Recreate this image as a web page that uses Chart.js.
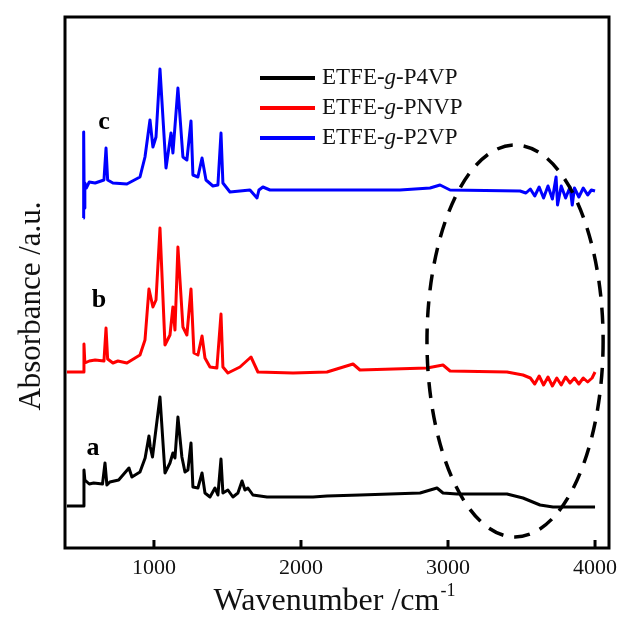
<!DOCTYPE html>
<html>
<head>
<meta charset="utf-8">
<script src="https://cdn.jsdelivr.net/npm/chart.js@4"></script>
<style>
  html, body { margin: 0; padding: 0; background: #fff; }
  #wrap { width: 621px; height: 619px; }
</style>
</head>
<body>
<div id="wrap"><canvas id="myChart" width="621" height="619"></canvas></div>
<script>
// series names (legend)
var Names = ["ETFE-g-P4VP", "ETFE-g-PNVP", "ETFE-g-P2VP"];
var Letters = ["a", "b", "c"];
var Colors = ["#000000", "#ff0000", "#0000ff"];

// x tick labels
var XTicks = [1000, 2000, 3000, 4000];

// trace a: ETFE-g-P4VP (wavenumber / offset absorbance)
var wnA = [408,520,524,530,560,590,650,667,680,700,760,830,850,905,940,966,975,990,1041,1075,1109,1129,1143,1163,1190,1211,1231,1252,1265,1299,1327,1347,1381,1415,1435,1456,1469,1503,1537,1571,1599,1619,1639,1673,1769,2082,2177,2401,2810,2925,2966,3061,3401,3510,3626,3714,4000];
var absA = [42,42,78,68,64,65,64,85,63,66,68,80,71,76,90,112,101,91,151,75,85,95,90,131,91,76,78,105,61,60,75,55,51,60,53,89,55,58,51,55,67,58,60,53,51,51,52,53,55,60,55,54,54,50,43,41,41];

// trace b: ETFE-g-PNVP
var wnB = [408,520,524,530,560,600,660,674,685,721,755,816,905,939,966,993,1014,1041,1075,1109,1129,1143,1163,1197,1224,1252,1272,1299,1327,1347,1381,1428,1456,1469,1503,1585,1660,1707,1946,2177,2354,2401,2857,2966,3014,3401,3510,3560,3590,3620,3650,3680,3710,3740,3770,3800,3830,3860,3890,3920,3950,3980,4000];
var absB = [176,176,204,185,187,188,187,220,189,185,187,185,193,208,259,241,248,320,203,213,241,218,301,221,213,259,195,193,212,190,181,180,234,181,175,181,191,176,175,176,184,178,180,183,177,176,173,170,164,172,163,171,162,170,163,171,165,170,164,170,166,170,176];

// trace c: ETFE-g-P2VP
var wnC = [520,522,526,530,540,560,600,640,660,674,685,721,816,905,939,973,993,1014,1041,1082,1116,1129,1163,1197,1224,1252,1265,1299,1327,1354,1401,1435,1456,1469,1517,1653,1701,1714,1741,1789,2265,2673,2878,2946,3014,3490,3530,3560,3590,3620,3650,3680,3710,3735,3745,3770,3800,3830,3845,3860,3890,3920,3950,3975,4000];
var absC = [330,416,340,365,360,366,365,367,368,400,368,365,364,371,391,428,401,411,479,380,415,395,460,391,388,427,373,371,390,368,362,363,415,365,356,358,350,358,361,358,358,358,360,363,358,357,355,359,352,361,350,362,349,371,343,362,350,361,343,360,351,360,353,358,357];

// where the letters a/b/c sit (data units)
var letterAt = [[585, 100], [626, 248], [660, 426]];
// dashed ellipse marking the high-wavenumber region (data units)
var ring = { wn: 3456, abs: 207, dwn: 599, dabs: 196 };

function pts(xs, ys) {
  return xs.map(function (v, i) { return { x: v, y: ys[i] }; });
}

var SERIF = "'Liberation Serif', 'Times New Roman', serif";

var deco = {
  id: 'deco',
  afterDatasetsDraw: function (chart) {
    var ctx = chart.ctx, ca = chart.chartArea;
    var x = chart.scales.x, y = chart.scales.y;
    ctx.save();

    // ellipse
    var cx = x.getPixelForValue(ring.wn), cy = y.getPixelForValue(ring.abs);
    var rx = x.getPixelForValue(ring.wn + ring.dwn) - cx;
    var ry = cy - y.getPixelForValue(ring.abs + ring.dabs);
    ctx.beginPath();
    ctx.setLineDash([16, 11]);
    ctx.lineWidth = 3.5;
    ctx.strokeStyle = '#000';
    ctx.ellipse(cx, cy, rx, ry, 0, 0, Math.PI * 2);
    ctx.stroke();
    ctx.setLineDash([]);

    // frame
    ctx.lineWidth = 3;
    ctx.strokeRect(ca.left, ca.top, ca.right - ca.left, ca.bottom - ca.top);

    // inward ticks
    XTicks.forEach(function (v) {
      var px = x.getPixelForValue(v);
      ctx.beginPath();
      ctx.moveTo(px, ca.bottom);
      ctx.lineTo(px, ca.bottom - 8);
      ctx.stroke();
    });

    // curve letters
    ctx.fillStyle = '#000';
    ctx.font = 'bold 26px ' + SERIF;
    ctx.textAlign = 'center';
    ctx.textBaseline = 'middle';
    Letters.forEach(function (t, i) {
      ctx.fillText(t, x.getPixelForValue(letterAt[i][0]), y.getPixelForValue(letterAt[i][1]));
    });

    // legend
    ctx.textAlign = 'left';
    Names.forEach(function (n, i) {
      var ly = 78 + i * 30;
      ctx.beginPath();
      ctx.lineWidth = 4;
      ctx.strokeStyle = Colors[i];
      ctx.moveTo(260, ly);
      ctx.lineTo(315, ly);
      ctx.stroke();
      var parts = n.split('-g-');
      var tx = 322;
      ctx.fillStyle = '#111';
      ctx.font = '23px ' + SERIF;
      ctx.fillText(parts[0] + '-', tx, ly);
      tx += ctx.measureText(parts[0] + '-').width;
      ctx.font = 'italic 23px ' + SERIF;
      ctx.fillText('g', tx, ly);
      tx += ctx.measureText('g').width;
      ctx.font = '23px ' + SERIF;
      ctx.fillText('-' + parts[1], tx, ly);
    });

    // axis titles
    ctx.fillStyle = '#111';
    ctx.font = '32px ' + SERIF;
    ctx.textBaseline = 'alphabetic';
    var main = 'Wavenumber /cm', sup = '-1';
    var w1 = ctx.measureText(main).width;
    ctx.font = '18px ' + SERIF;
    var w2 = ctx.measureText(sup).width;
    var sx = 334 - (w1 + w2) / 2;
    ctx.font = '32px ' + SERIF;
    ctx.fillText(main, sx, 610);
    ctx.font = '18px ' + SERIF;
    ctx.fillText(sup, sx + w1 + 1, 596);

    ctx.translate(32, 306);
    ctx.rotate(-Math.PI / 2);
    ctx.font = '31px ' + SERIF;
    ctx.textAlign = 'center';
    ctx.textBaseline = 'middle';
    ctx.fillText('Absorbance /a.u.', 0, 0);

    ctx.restore();
  }
};

var ctx = document.getElementById("myChart");
var myChart = new Chart(ctx, {
  type: 'line',
  data: {
    datasets: [
      { label: Names[0], data: pts(wnA, absA), borderColor: Colors[0] },
      { label: Names[1], data: pts(wnB, absB), borderColor: Colors[1] },
      { label: Names[2], data: pts(wnC, absC), borderColor: Colors[2] }
    ]
  },
  options: {
    responsive: false,
    animation: false,
    layout: { padding: { left: 65, right: 12, top: 17, bottom: 0 } },
    elements: {
      line: { borderWidth: 3, tension: 0, borderJoinStyle: 'round' },
      point: { radius: 0 }
    },
    plugins: { legend: { display: false }, tooltip: { enabled: false } },
    scales: {
      x: {
        type: 'linear',
        min: 395,
        max: 4095,
        afterBuildTicks: function (s) { s.ticks = XTicks.map(function (v) { return { value: v }; }); },
        afterFit: function (s) { s.height = 71; s.paddingRight = 0; },
        grid: { display: false, drawTicks: false },
        border: { display: false },
        ticks: {
          font: { family: SERIF, size: 22 }, color: '#111', padding: 7, maxRotation: 0,
          callback: function (v) { return String(v); }
        }
      },
      y: {
        display: false,
        min: 0,
        max: 531
      }
    }
  },
  plugins: [deco]
});
</script>
</body>
</html>
